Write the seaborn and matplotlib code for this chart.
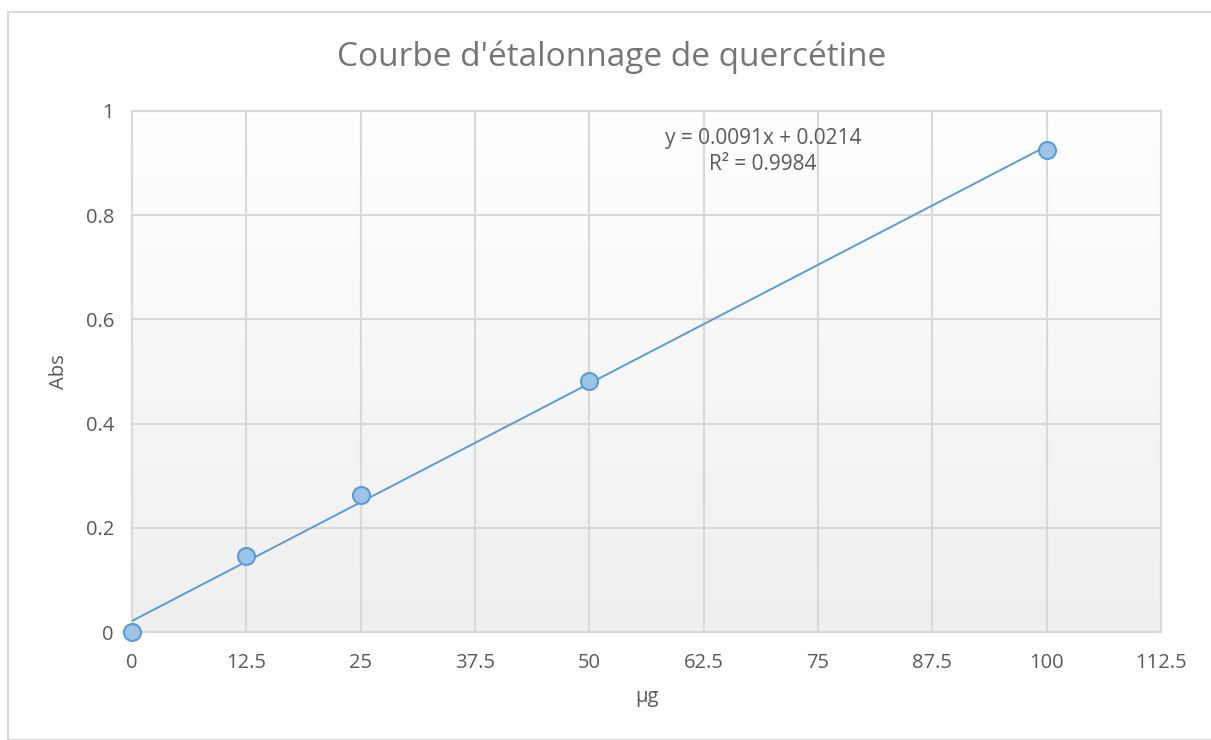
import numpy as np
import matplotlib
matplotlib.use("Agg")
import matplotlib.pyplot as plt
import seaborn as sns
from matplotlib.patches import Rectangle

# calibration data
quantity_ug = [0, 12.5, 25, 50, 100]
absorbance = [0.0, 0.146, 0.262, 0.481, 0.926]
x_ticks = [0, 12.5, 25, 37.5, 50, 62.5, 75, 87.5, 100, 112.5]
x_tick_labels = ["0", "12.5", "25", "37.5", "50", "62.5", "75", "87.5", "100", "112.5"]
y_ticks = [0, 0.2, 0.4, 0.6, 0.8, 1]
y_tick_labels = ["0", "0.2", "0.4", "0.6", "0.8", "1"]
equation = "y = 0.0091x + 0.0214\nR² = 0.9984"

sns.set_style("white")
plt.rcParams["font.family"] = ["Open Sans", "DejaVu Sans"]
text_col = "#595959"
grid_col = "#d9d9d9"
blue = "#5b9bd5"

fig = plt.figure(figsize=(12.11, 7.40), dpi=100)
ax = fig.add_axes([132 / 1211, 1 - 632 / 740, (1161 - 132) / 1211, (632 - 111) / 740])

# chart area frame
fig.patches.append(Rectangle((8 / 1211, 0), 1.2, 1 - 12 / 740, transform=fig.transFigure,
                             fill=False, edgecolor="#d9d9d9", linewidth=1.5))

# gradient plot background
grad = np.linspace(1, 0, 256).reshape(-1, 1)
ax.imshow(grad, extent=[0, 112.5, 0, 1], aspect="auto",
          cmap=matplotlib.colors.LinearSegmentedColormap.from_list("g", ["#efefef", "#ffffff"]),
          zorder=0, origin="upper")

sns.regplot(x=quantity_ug, y=absorbance, ax=ax, scatter=False, ci=None,
            line_kws=dict(color=blue, linewidth=1.4, zorder=3))
sns.scatterplot(x=quantity_ug, y=absorbance, ax=ax, s=150, color="#9dc3e6",
                edgecolor=blue, linewidth=1.5, zorder=4, clip_on=False)

ax.set_xlim(0, 112.5)
ax.set_ylim(0, 1)
ax.set_xticks(x_ticks)
ax.set_xticklabels(x_tick_labels)
ax.set_yticks(y_ticks)
ax.set_yticklabels(y_tick_labels)
ax.grid(True, color=grid_col, linewidth=1.5)
ax.set_axisbelow(True)
for s in ax.spines.values():
    s.set_color(grid_col)
    s.set_linewidth(1.5)
ax.tick_params(length=0, labelsize=14.5, colors=text_col)
ax.tick_params(axis="x", pad=15)
ax.tick_params(axis="y", pad=13)
ax.set_xlabel("µg", fontsize=14.5, color=text_col, labelpad=10)
ax.set_ylabel("Abs", fontsize=14.5, color=text_col, labelpad=12)

ax.text(69, 0.922, equation, ha="center", va="center", fontsize=15, color=text_col,
        linespacing=1.3, zorder=5)

fig.text(612 / 1211, 1 - 57 / 740, "Courbe d'étalonnage de quercétine", ha="center", va="center",
         fontsize=24, color="#757575")

fig.savefig("out.png", dpi=100)
